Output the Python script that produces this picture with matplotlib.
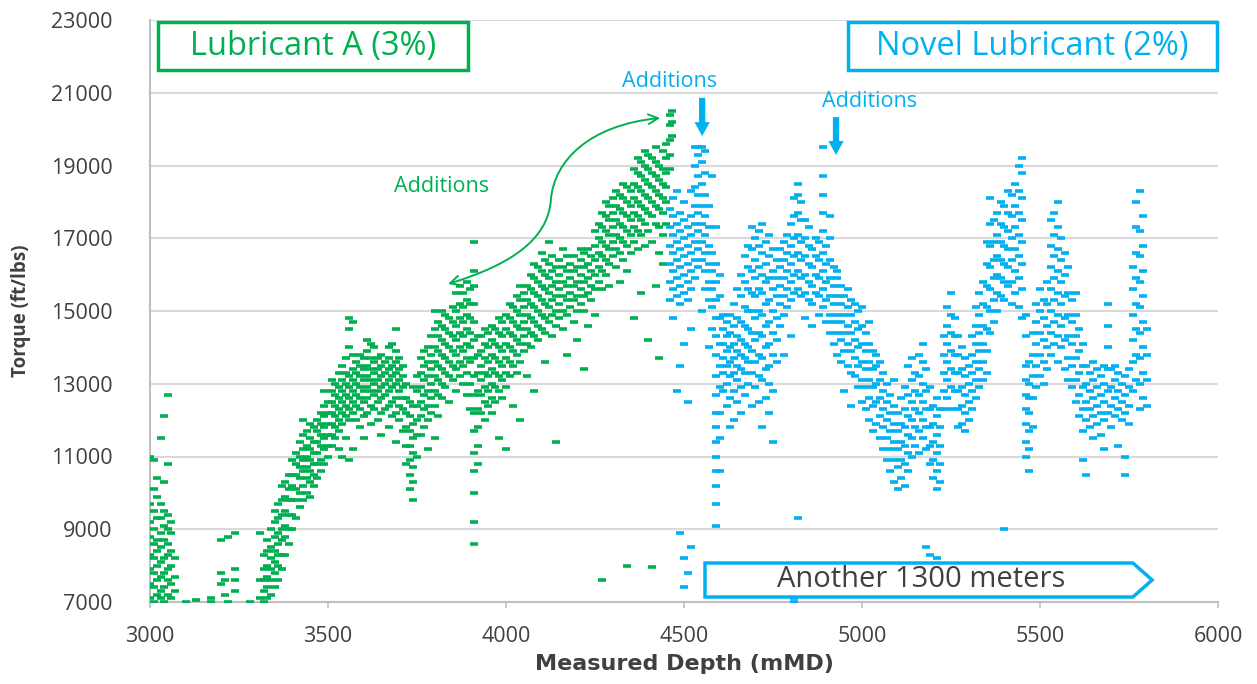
import matplotlib
matplotlib.use("Agg")
import matplotlib.pyplot as plt
from matplotlib.path import Path
from matplotlib.patches import FancyArrowPatch, Polygon, Rectangle

plt.rcParams['font.family'] = ['Open Sans', 'DejaVu Sans']

# ---- data: depth stations (mMD) and torque readings (ft/lbs)
lube_a_depth = [
    3000, 3010, 3020, 3030, 3040, 3050, 3060, 3070, 3100, 3130, 3170, 3200, 3210, 3220, 3240, 3280,
    3310, 3320, 3330, 3340, 3350, 3360, 3370, 3380, 3390, 3400, 3410, 3420, 3430, 3440, 3450, 3460,
    3470, 3480, 3490, 3500, 3510, 3520, 3530, 3540, 3550, 3560, 3570, 3580, 3590, 3600, 3610, 3620,
    3630, 3640, 3650, 3660, 3670, 3680, 3690, 3700, 3710, 3720, 3730, 3740, 3750, 3760, 3770, 3780,
    3790, 3800, 3810, 3820, 3830, 3840, 3850, 3860, 3870, 3880, 3890, 3900, 3910, 3920, 3930, 3940,
    3950, 3960, 3970, 3980, 3990, 4000, 4010, 4020, 4030, 4040, 4050, 4060, 4070, 4080, 4090, 4100,
    4110, 4120, 4130, 4140, 4150, 4160, 4170, 4180, 4190, 4200, 4210, 4220, 4230, 4240, 4250, 4260,
    4270, 4280, 4290, 4300, 4310, 4320, 4330, 4340, 4350, 4360, 4370, 4380, 4390, 4400, 4410, 4420,
    4430, 4440, 4450, 4460, 4465,
]
lube_a_torque = [
    [7100, 7500, 7900, 8300, 8800, 9200, 9700, 11000],
    [7000, 7400, 7800, 8200, 8600, 9000, 9500, 10100, 10900],
    [7200, 7600, 8000, 8400, 8700, 9300, 9900, 10400],
    [7100, 7300, 7700, 8100, 8500, 8900, 9300, 9700, 11500],
    [7000, 7400, 7800, 8200, 8700, 9100, 9500, 10300, 12100],
    [7200, 7600, 7900, 8300, 8600, 9000, 9400, 10800, 12700],
    [7100, 7500, 8000, 8400, 8900, 9200],
    [7300, 7700, 8200],
    [7000],
    [7050],
    [7000, 7100],
    [7500, 7800, 8700],
    [7200, 7600],
    [7000, 8800],
    [7300, 7600, 7900, 8900],
    [7000],
    [7100, 7600, 8900],
    [7000, 7300, 7600, 7900, 8300],
    [7100, 7400, 7700, 8000, 8400, 8700],
    [7200, 7600, 7900, 8200, 8500, 9000],
    [7400, 7800, 8100, 8400, 8800, 9200, 9500],
    [7600, 8000, 8300, 8600, 8900, 9300, 9700],
    [7900, 8300, 8700, 9000, 9400, 9800, 10200],
    [8300, 8800, 9100, 9500, 9900, 10300],
    [8600, 9000, 9400, 9800, 10100, 10500],
    [9000, 9400, 9800, 10200, 10500, 10900],
    [9300, 9800, 10100, 10500, 10800, 11100],
    [9600, 10000, 10400, 10700, 11000, 11400],
    [9800, 10200, 10600, 10900, 11200, 11600, 12000],
    [10000, 10400, 10700, 11000, 11300, 11700],
    [9900, 10300, 10600, 10900, 11200, 11500, 11900],
    [10200, 10500, 10800, 11100, 11400, 11800],
    [10400, 10800, 11100, 11400, 11700, 12000],
    [10600, 10900, 11300, 11600, 11900, 12200],
    [10800, 11200, 11500, 11800, 12100, 12400, 12800],
    [11000, 11300, 11600, 11900, 12200, 12500],
    [11300, 11600, 11900, 12200, 12500, 12800, 13100],
    [11500, 11800, 12100, 12400, 12700, 13000],
    [11200, 11700, 12000, 12300, 12600, 12900, 13300],
    [11000, 11900, 12200, 12500, 12800, 13100, 13500],
    [11500, 12100, 12400, 12700, 13000, 13300, 13700],
    [10900, 12000, 12300, 12600, 12900, 13200, 14000, 14500, 14800],
    [11200, 12200, 12500, 12800, 13100, 13400, 13800, 14700],
    [12000, 12400, 12700, 13000, 13300, 13600],
    [11800, 12300, 12600, 12900, 13200, 13500, 13800],
    [11500, 12100, 12500, 12800, 13100, 13400, 13700],
    [12200, 12600, 12900, 13200, 13500, 13900, 14200],
    [11900, 12400, 12800, 13100, 13400, 13700, 14100],
    [12300, 12700, 13000, 13300, 13600, 14000],
    [12000, 12500, 12800, 13100, 13400, 13700],
    [11600, 12200, 12600, 12900, 13200, 13500, 13800],
    [12300, 12700, 13000, 13300, 13600],
    [11800, 12400, 12800, 13100, 13400, 13700, 14000],
    [12100, 12500, 12900, 13200, 13500, 14100],
    [11400, 12200, 12600, 13000, 13300, 13600, 13900, 14500],
    [12000, 12400, 12800, 13100, 13400, 13700],
    [11700, 12300, 12600, 12900, 13200, 13500],
    [10800, 11300, 11800, 12200, 12600, 13000],
    [10100, 10500, 10900, 11300, 11700, 12100, 12500],
    [9800, 10300, 10700, 11100, 11500, 11900, 12400, 12900],
    [11000, 11600, 12000, 12400, 12800, 13200],
    [11600, 12100, 12500, 12900, 13300, 13700],
    [11800, 12300, 12700, 13100, 13500, 13900],
    [11200, 12000, 12400, 12800, 13200, 13600, 14000],
    [12200, 12600, 13000, 13400, 13800, 14300],
    [11500, 12400, 12800, 13200, 13600, 14000, 14500, 15000],
    [12100, 12700, 13100, 13500, 13900, 14300, 14700],
    [12600, 13000, 13400, 13800, 14200, 14600, 15000],
    [12900, 13300, 13700, 14100, 14500, 14900],
    [12500, 13200, 13600, 14000, 14400, 14800],
    [13100, 13500, 13900, 14300, 14700, 15100],
    [12800, 13400, 13800, 14200, 14600, 15000, 15500],
    [13200, 13600, 14000, 14400, 14800, 15200, 15700],
    [13000, 13500, 13900, 14300, 14700, 15100, 15500],
    [12700, 13300, 13700, 14100, 14500, 14900, 15300, 15800],
    [12300, 13000, 13600, 14000, 14400, 14800, 15200, 15600],
    [8600, 9200, 10000, 10600, 11100, 11700, 12200, 12700, 13200, 13700, 14200, 14700, 15200, 15700, 16100, 16900],
    [10800, 11300, 11800, 12300, 12800, 13300, 13800, 14300],
    [12200, 12700, 13100, 13500, 13900, 14300],
    [12000, 12500, 12900, 13300, 13700, 14100, 14500],
    [12400, 12800, 13200, 13600, 14000, 14400],
    [12200, 12600, 13000, 13400, 13800, 14200, 14600],
    [12500, 12900, 13300, 13700, 14100, 14500],
    [11500, 12800, 13200, 13600, 14000, 14400, 14800],
    [12600, 13100, 13500, 13900, 14300, 14700],
    [11200, 12900, 13300, 13700, 14100, 14500, 14900],
    [13200, 13600, 14000, 14400, 14800, 15200],
    [12400, 13500, 13900, 14300, 14700, 15100],
    [13300, 13800, 14200, 14600, 15000, 15400],
    [12000, 13600, 14100, 14500, 14900, 15300, 15700],
    [13900, 14300, 14700, 15100, 15500],
    [13200, 14100, 14500, 14900, 15300, 15700],
    [14000, 14400, 14800, 15200, 15600, 16000],
    [12800, 14300, 14700, 15100, 15500, 15900, 16300],
    [14200, 14600, 15000, 15400, 15800, 16200],
    [14500, 14900, 15300, 15700, 16100, 16600],
    [13600, 14400, 14800, 15200, 15600, 16000, 16400],
    [14700, 15100, 15500, 15900, 16300, 16900],
    [14300, 14900, 15300, 15700, 16100, 16500],
    [11400, 14600, 15000, 15400, 15800, 16200],
    [14800, 15200, 15600, 16000, 16400],
    [14500, 15000, 15400, 15800, 16200, 16700],
    [13800, 14900, 15300, 15700, 16100, 16500],
    [15100, 15500, 15900, 16300],
    [14700, 15300, 15700, 16100, 16500],
    [14200, 15000, 15400, 15800, 16200],
    [15200, 15600, 16000, 16400, 16700],
    [13400, 15000, 15400, 15800, 16200, 16600],
    [14600, 15500, 15900, 16300, 16700],
    [15300, 15700, 16100, 16500],
    [14900, 15600, 16000, 16400, 16800, 17200],
    [15800, 16200, 16600, 17000, 17400],
    [7600, 15600, 16100, 16500, 16900, 17300, 17700],
    [16000, 16400, 16800, 17200, 17600, 18000],
    [15700, 16300, 16700, 17100, 17500, 17900],
    [16500, 16900, 17300, 17700, 18100],
    [16200, 16700, 17100, 17500, 17900, 18300],
    [15800, 16600, 17000, 17400, 17800, 18200],
    [16400, 16900, 17300, 17700, 18100, 18500],
    [8000, 16100, 16800, 17200, 17600, 18000, 18400],
    [16600, 17100, 17500, 17900, 18300],
    [14800, 16900, 17300, 17700, 18100, 18500, 18900],
    [16700, 17200, 17600, 18000, 18400, 18800, 19200],
    [15500, 17100, 17500, 17900, 18300, 18700, 19100],
    [16800, 17400, 17800, 18200, 18600, 19000, 19400],
    [14200, 17200, 17700, 18100, 18500, 18900, 19300],
    [7950, 16900, 17600, 18000, 18400, 18800, 19200],
    [15700, 17400, 17900, 18300, 18700, 19100, 19500],
    [13700, 16600, 17300, 17800, 18200, 18600, 19000],
    [16300, 17100, 17700, 18100, 18500, 18900, 19400],
    [17400, 18000, 18400, 18800, 19200, 19600],
    [18900, 19300, 19700, 20100, 20400],
    [19800, 20200, 20500],
]

novel_depth = [
    4460, 4470, 4480, 4490, 4500, 4510, 4520, 4530, 4540, 4550, 4560, 4570, 4580, 4590, 4600, 4610,
    4620, 4630, 4640, 4650, 4660, 4670, 4680, 4690, 4700, 4710, 4720, 4730, 4740, 4750, 4760, 4770,
    4780, 4790, 4800, 4810, 4820, 4830, 4840, 4850, 4860, 4870, 4880, 4890, 4900, 4910, 4920, 4930,
    4940, 4950, 4960, 4970, 4980, 4990, 5000, 5010, 5020, 5030, 5040, 5050, 5060, 5070, 5080, 5090,
    5100, 5110, 5120, 5130, 5140, 5150, 5160, 5170, 5180, 5190, 5200, 5210, 5220, 5230, 5240, 5250,
    5260, 5270, 5280, 5290, 5300, 5310, 5320, 5330, 5340, 5350, 5360, 5370, 5380, 5390, 5400, 5410,
    5420, 5430, 5440, 5450, 5460, 5470, 5480, 5490, 5500, 5510, 5520, 5530, 5540, 5550, 5560, 5570,
    5580, 5590, 5600, 5610, 5620, 5630, 5640, 5650, 5660, 5670, 5680, 5690, 5700, 5710, 5720, 5730,
    5740, 5750, 5760, 5770, 5780, 5790, 5800,
]
novel_torque = [
    [15300, 15800, 16300, 16800, 17300, 17800],
    [14800, 15600, 16100, 16600, 17100, 17600, 18100],
    [12800, 15400, 15900, 16400, 16900, 17400, 18300],
    [8900, 13500, 15200, 15700, 16200, 16700, 17200, 17700],
    [7400, 8200, 14100, 15500, 16000, 16500, 17000, 17500, 18000],
    [7800, 12500, 15300, 15800, 16300, 16800, 17300],
    [8500, 14500, 15600, 16100, 16600, 17100, 17600, 18300],
    [15900, 16400, 16900, 17400, 17900, 18400, 19000, 19500],
    [16200, 16700, 17200, 17700, 18200, 18700, 19300, 19500],
    [15000, 16400, 16900, 17400, 17900, 18500, 19100, 19500],
    [15600, 16100, 16600, 17100, 17600, 18200, 18800, 19400],
    [14000, 15300, 15800, 16300, 16800, 17300, 17900],
    [14500, 15100, 15600, 16100, 16600, 18700],
    [9100, 9700, 10200, 10600, 11000, 11400, 11800, 12200, 12700, 13200, 13800, 14300, 14800, 15300, 15800, 16300, 17300],
    [10600, 11500, 12200, 12900, 13500, 14100, 14800, 15400, 16000],
    [12800, 13300, 13700, 14100, 14500, 14900],
    [12400, 13000, 13500, 13900, 14300, 14700],
    [11800, 12600, 13200, 13600, 14000, 14400, 14900],
    [12000, 12800, 13300, 13700, 14100, 14600, 15200],
    [12500, 13100, 13500, 13900, 14300, 14800, 15600],
    [12200, 12900, 13400, 13800, 14200, 14700, 15400, 16000],
    [12700, 13300, 13700, 14100, 14600, 15100, 15800, 16500],
    [13000, 13600, 14000, 14500, 15000, 15600, 16200, 16800],
    [12400, 13300, 13900, 14400, 15000, 15500, 16100, 16700, 17300],
    [12900, 13600, 14200, 14800, 15400, 15900, 16400, 17000],
    [12500, 13200, 13800, 14400, 15000, 15600, 16200, 16800, 17200],
    [11800, 13100, 13700, 14300, 14900, 15500, 16000, 16600, 17400],
    [12600, 13400, 14000, 14600, 15200, 15800, 16300, 16900],
    [12200, 13000, 13500, 14100, 14700, 15300, 15900, 16500, 17100],
    [11400, 12800, 13800, 14400, 15000, 15600, 16100, 16700],
    [13600, 14200, 14800, 15400, 15900, 16400],
    [14600, 15200, 15700, 16200, 16700],
    [13800, 14900, 15400, 15900, 16400, 16900],
    [15100, 15600, 16100, 16600, 17100],
    [14300, 15300, 15800, 16300, 16800, 17400],
    [7000, 7100, 15500, 16000, 16500, 17000, 17600, 18100],
    [9300, 15600, 16100, 16600, 17100, 17700, 18200, 18500],
    [15400, 15900, 16400, 16900, 17500, 18000],
    [14800, 15500, 16000, 16500, 17000, 17500],
    [15300, 15800, 16300, 16800, 17300],
    [14600, 15200, 15700, 16200, 16700],
    [15500, 16000, 16500, 17000],
    [14900, 15400, 15900, 16400, 16900],
    [15100, 15600, 16100, 16600, 17200, 17700, 18200, 18700, 19500],
    [14700, 15300, 15800, 16300, 16800],
    [14400, 14900, 15400, 15900, 16400, 17000, 17600],
    [14100, 14700, 15200, 15700, 16200],
    [13800, 14400, 14900, 15400, 15900, 16100],
    [13600, 14200, 14700, 15200, 15700],
    [12800, 13900, 14400, 14900, 15400],
    [13500, 14100, 14600, 15100, 15600],
    [12400, 13300, 13900, 14400, 14900, 15300],
    [13200, 13700, 14200, 14700, 15200],
    [12900, 13500, 14000, 14500, 15000],
    [12500, 13100, 13600, 14100, 14600, 15100],
    [12300, 12900, 13400, 13900, 14400],
    [12000, 12600, 13100, 13600, 14100, 14700],
    [11700, 12400, 12900, 13400, 13900],
    [11900, 12500, 13000, 13500, 13800],
    [11500, 12100, 12600, 13100, 13600],
    [11200, 11800, 12300, 12800, 13300],
    [10900, 11500, 12000, 12500, 13000],
    [10600, 11200, 11700, 12200, 12700],
    [10300, 10900, 11400, 11900, 12400, 13100],
    [10100, 10700, 11200, 11700, 12200],
    [10400, 10900, 11400, 11900, 12600],
    [10200, 10800, 11300, 11800, 12300, 12900],
    [10600, 11100, 11600, 12100, 12700, 13500],
    [11000, 11500, 12000, 12500, 13100, 13700],
    [11300, 11800, 12300, 12800, 13300],
    [11100, 11700, 12200, 12700, 13200, 13800],
    [11500, 12000, 12500, 13000, 13600, 14100],
    [8500, 11200, 11800, 12300, 12800, 13400],
    [8300, 10800, 11300, 11800, 12300, 12900],
    [10400, 10900, 11400, 11900, 12400],
    [8200, 10100, 10600, 11100, 11600, 12100, 12600],
    [10300, 10800, 11300, 11800, 12300],
    [12300, 12800, 13300, 13800, 14300],
    [12600, 13100, 13600, 14100, 14600, 15100],
    [12300, 12900, 13400, 13900, 14400, 14900, 15500],
    [12800, 13300, 13800, 14300, 14800],
    [11800, 12300, 12800, 13300, 13800, 14300],
    [11900, 12400, 12900, 13400, 14000],
    [11700, 12200, 12700, 13200, 13700],
    [12000, 12500, 13000, 13500],
    [12300, 12800, 13300, 13800, 14300],
    [12600, 13100, 13600, 14100, 14600, 15100],
    [12900, 13400, 13900, 14400, 14900, 15500],
    [13100, 13600, 14100, 14600, 15200, 15800],
    [13300, 13900, 14500, 15100, 15700, 16300, 16900],
    [14400, 15000, 15600, 16200, 16800, 17400, 18100],
    [14700, 15300, 15900, 16400, 16900, 17500],
    [15000, 15500, 16000, 16500, 17100, 17700],
    [15400, 15900, 16400, 16900, 17400, 18000],
    [9000, 15300, 15800, 16300, 16800, 17300, 17900],
    [15700, 16200, 16700, 17200, 17700, 18300],
    [15200, 15800, 16400, 17000, 17600, 18200],
    [15500, 16100, 16700, 17300, 17900, 18500],
    [15100, 15900, 16500, 17100, 17700, 18300, 19000],
    [14800, 15600, 16300, 16900, 17500, 18100, 18800, 19200],
    [11000, 11400, 11900, 12300, 12700, 13100, 13500, 14300, 14900],
    [10600, 11200, 11700, 12200, 12600, 13000, 13600],
    [11800, 12600, 13200, 13800, 14400],
    [12900, 13500, 14100, 14700, 15200],
    [13200, 13800, 14400, 15000, 15600],
    [13000, 13600, 14200, 14800, 15300],
    [13400, 14000, 14600, 15200, 15800],
    [13800, 14400, 15000, 15600, 16200, 16800, 17500],
    [14100, 14700, 15300, 15900, 16500, 17100, 17700],
    [13600, 14300, 14900, 15500, 16100, 16700, 17300, 18000],
    [14000, 14600, 15200, 15800, 16400, 17000],
    [13400, 14200, 14800, 15400, 16000, 16600],
    [13100, 13700, 14300, 14900, 15500, 16200],
    [12900, 13500, 14100, 14700, 15300],
    [12500, 13100, 13700, 14300, 14900, 15500],
    [12100, 12700, 13300, 13900, 14500],
    [10900, 11700, 12300, 12900, 13500, 14100],
    [10500, 12000, 12500, 13000, 13500],
    [11800, 12300, 12800, 13300],
    [11500, 12100, 12600, 13100, 13600],
    [11900, 12400, 12900, 13400],
    [11600, 12200, 12700, 13200],
    [11200, 12000, 12500, 13000, 13500],
    [12200, 12800, 13400, 14000, 14600, 15200],
    [11800, 12400, 12900, 13400],
    [12100, 12600, 13100, 13500],
    [11300, 12300, 12800, 13300],
    [12000, 12500, 13000],
    [10500, 11000, 12200, 12700, 13200],
    [11900, 12400, 12900, 13400],
    [12800, 13600, 14200, 14900, 15600, 16200],
    [13100, 13800, 14500, 15200, 15900, 16600, 17300, 18000],
    [12300, 13000, 13700, 14400, 15100, 15800, 16500, 17200, 18300],
    [12600, 13300, 14000, 14700, 15400, 16100, 16800, 17600],
    [12400, 13100, 13800, 14500],
]

y_ticks = [7000, 9000, 11000, 13000, 15000, 17000, 19000, 21000, 23000]
x_ticks = [3000, 3500, 4000, 4500, 5000, 5500, 6000]

green = '#00B050'
blue = '#00B0F0'
grey_txt = '#404040'


def flatten(depths, torques):
    xs, ys = [], []
    for d, vals in zip(depths, torques):
        for v in vals:
            xs.append(d)
            ys.append(v)
    return xs, ys


fig = plt.figure(figsize=(12.57, 6.84), dpi=100)
ax = fig.add_axes([150 / 1257, 82 / 684, 1068 / 1257, 582 / 684])

ax_x, ax_y = flatten(lube_a_depth, lube_a_torque)
nv_x, nv_y = flatten(novel_depth, novel_torque)
ax.plot(ax_x, ax_y, linestyle='none', marker='_', ms=5.5, mew=2.6, color=green, zorder=3)
ax.plot(nv_x, nv_y, linestyle='none', marker='_', ms=5.5, mew=2.6, color=blue, zorder=3)

ax.set_xlim(3000, 6000)
ax.set_ylim(7000, 23000)
ax.set_xticks(x_ticks)
ax.set_yticks(y_ticks)
ax.grid(axis='y', color='#D9D9D9', linewidth=1.5, zorder=0)
ax.set_axisbelow(True)
for s in ['top', 'right']:
    ax.spines[s].set_visible(False)
ax.spines['left'].set_color('#BFBFBF')
ax.spines['bottom'].set_color('#BFBFBF')
ax.spines['left'].set_linewidth(1.5)
ax.spines['bottom'].set_linewidth(1.5)
ax.tick_params(axis='y', length=0, pad=27, labelsize=15.5, labelcolor=grey_txt)
ax.tick_params(axis='x', length=4, width=1.2, color='#BFBFBF', pad=13, labelsize=15.5, labelcolor=grey_txt)

ax.set_ylabel('Torque (ft/lbs)', fontsize=13.5, fontweight='bold', color=grey_txt, labelpad=14)
ax.set_xlabel('Measured Depth (mMD)', fontsize=16, fontweight='bold', color=grey_txt,
              family=['DejaVu Sans'], labelpad=5)

# boxed series labels
for x0, x1, label, col in [(0.0075, 0.2978, 'Lubricant A (3%)', green),
                           (0.6536, 0.9990, 'Novel Lubricant (2%)', blue)]:
    ax.add_patch(Rectangle((x0, 0.914), x1 - x0, 0.0826, transform=ax.transAxes,
                           fc='white', ec=col, lw=2.5, zorder=6, clip_on=False))
    ax.text((x0 + x1) / 2, 0.955, label, transform=ax.transAxes, fontsize=23.5, color=col,
            ha='center', va='center', zorder=7)

# "Additions" notes
ax.text(3820, 18410, 'Additions', fontsize=15.5, color=green, ha='center', va='center')
ax.text(4460, 21300, 'Additions', fontsize=15.5, color=blue, ha='center', va='center')
ax.text(5022, 20770, 'Additions', fontsize=15.5, color=blue, ha='center', va='center')

# curved double arrow for lubricant A additions
verts = [(3837, 15742), (4011, 16265), (4118, 16952), (4126, 18052),
         (4135, 19151), (4236, 20113), (4433, 20306)]
codes = [Path.MOVETO, Path.CURVE4, Path.CURVE4, Path.CURVE4,
         Path.CURVE4, Path.CURVE4, Path.CURVE4]
curve = FancyArrowPatch(path=Path(verts, codes), arrowstyle='<->,head_length=7,head_width=3.5',
                        color=green, lw=1.4, zorder=5)
ax.add_patch(curve)

# blue down arrows
for d, t0, t1 in [(4551, 20860, 19810), (4927, 20330, 19290)]:
    ax.annotate('', xy=(d, t1), xytext=(d, t0),
                arrowprops=dict(arrowstyle='simple,head_length=1.0,head_width=1.1,tail_width=0.45',
                                color=blue, lw=0, shrinkA=0, shrinkB=0))

# "Another 1300 meters" arrow box
box = Polygon([(4559, 8072), (5761, 8072), (5815, 7605), (5761, 7137), (4559, 7137)],
              closed=True, fc='white', ec=blue, lw=2.5, zorder=6, clip_on=False)
ax.add_patch(box)
ax.text(5165, 7605, 'Another 1300 meters', fontsize=21, color=grey_txt, ha='center', va='center', zorder=7)

fig.savefig('out.png', dpi=100)
